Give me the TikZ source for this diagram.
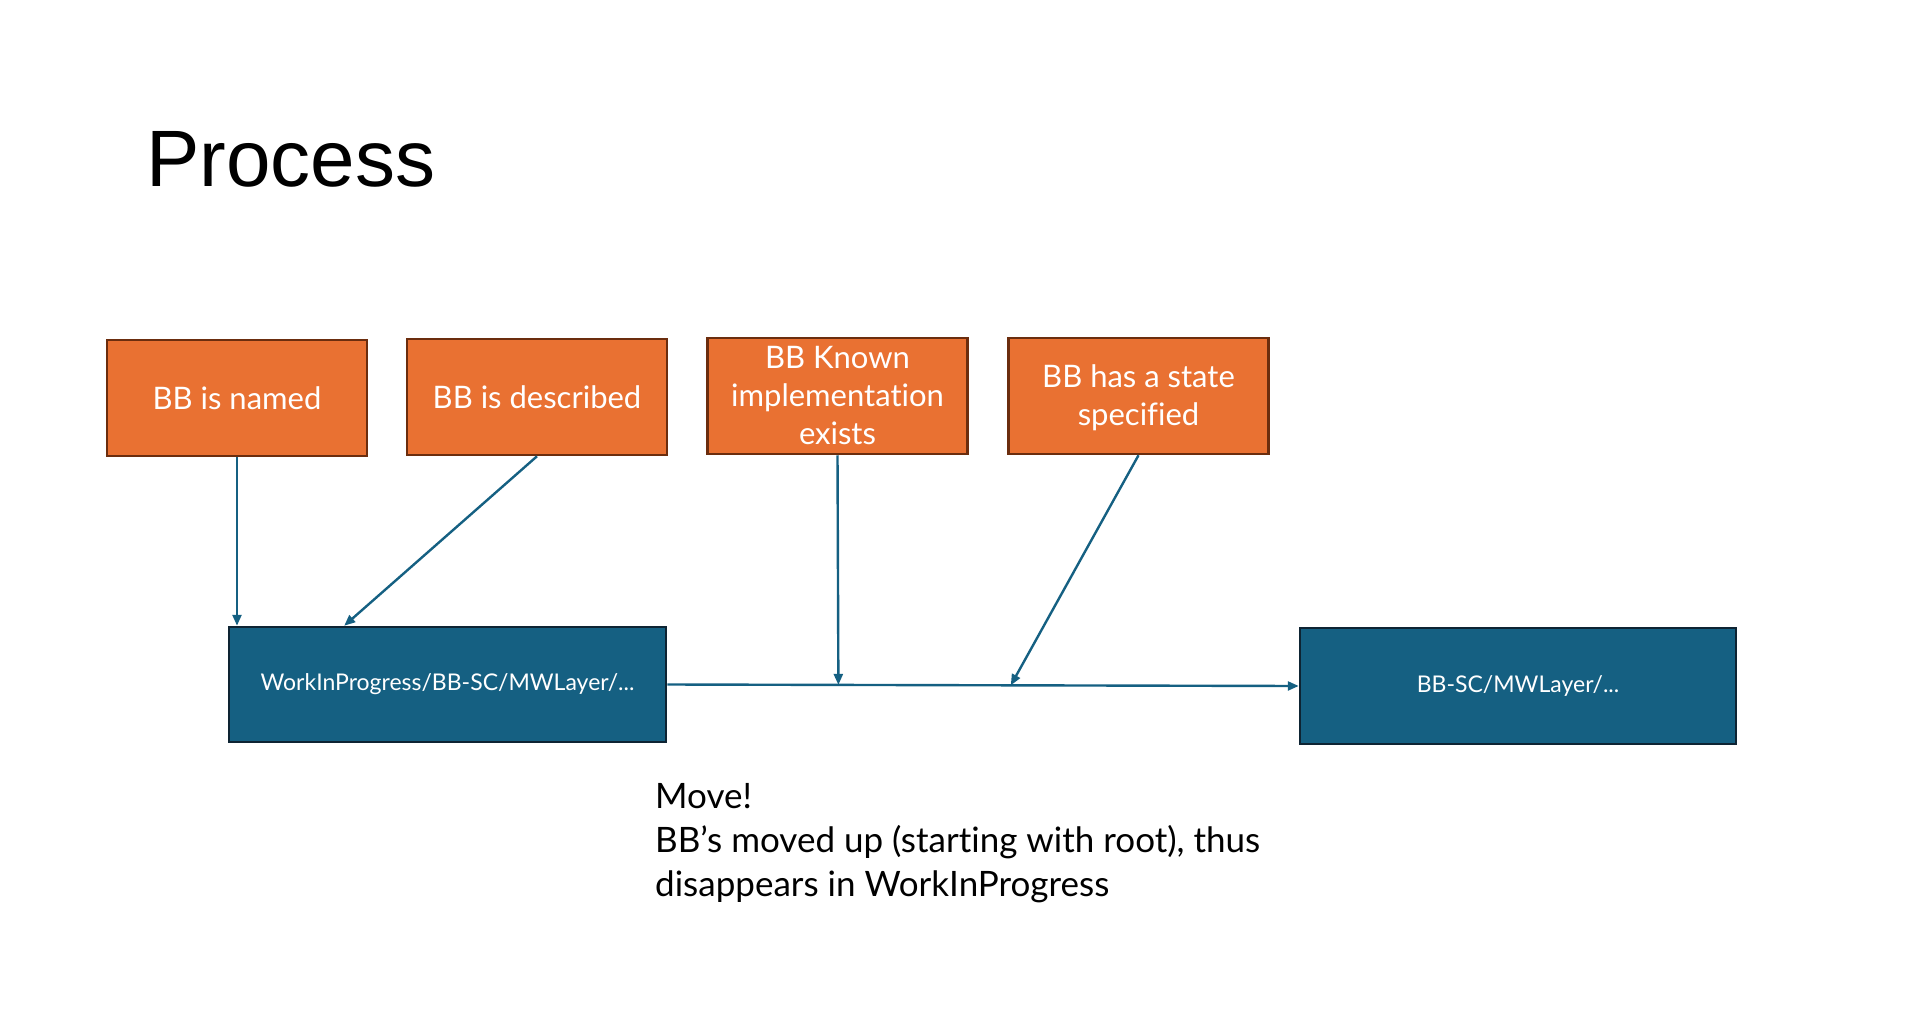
\documentclass[tikz,border=0pt]{standalone}
\usepackage{fontspec}
\setmainfont{Lato}[Ligatures={NoCommon}]
\newfontfamily\titlefont{Liberation Sans}
\usetikzlibrary{arrows.meta,calc}
\definecolor{orfill}{HTML}{E97132}
\definecolor{ordraw}{HTML}{6B2D0E}
\definecolor{blfill}{HTML}{156082}
\definecolor{bldraw}{HTML}{0E2433}
\definecolor{arr}{HTML}{156082}
\begin{document}
\begin{tikzpicture}[x=1pt,y=-1pt,
 obox/.style={draw=ordraw,fill=orfill,line width=2.5pt,minimum width=260pt,minimum height=116pt,inner sep=0pt,text=white,align=center,font=\fontsize{31}{38}\selectfont},
 bbox/.style={draw=bldraw,fill=blfill,line width=2.5pt,minimum width=437pt,minimum height=115pt,inner sep=0pt,text=white,font=\fontsize{23}{27}\selectfont},
 conn/.style={draw=arr,line width=2.4pt,-{Triangle[length=11pt,width=9pt]}}]
\useasboundingbox (0,0) rectangle (1913,1019);
\node[anchor=base west,inner sep=0pt,font=\titlefont\fontsize{80}{90}\selectfont] (title) at (146,187) {Process};
\node[obox] (o1) at (237,398) {BB is named};
\node[obox] (o2) at (537,397) {BB is described};
\node[obox] (o3) at (837.5,396) {BB Known\\implementation\\exists};
\node[obox] (o4) at (1138.5,396) {\strut BB has a state\\specified};
\node[bbox] (b1) at (447.5,684.5) {WorkInProgress/BB-SC/MWLayer/...};
\node[bbox,minimum width=436pt,minimum height=116pt] (b2) at (1518,686) {BB-SC/MWLayer/...};
\coordinate (m3) at ($(b1.east)!0.271!(b2.west)$);
\coordinate (m4) at ($(b1.east)!0.544!(b2.west)$);
\coordinate (t2) at ($(b1.north west)!0.265!(b1.north east)$);
\draw[conn] (b1.east) -- (b2.west);
\draw[conn] (o1.south) -- (o1.south |- b1.north);
\draw[conn] (o2.south) -- (t2);
\draw[conn] (o3.south) -- (m3);
\draw[conn] (o4.south) -- (m4);
\node[anchor=north west,inner sep=0pt,align=left,font=\fontsize{35}{44}\selectfont] (note) at (655,783) {Move!\\BB’s moved up (starting with root), thus\\disappears in WorkInProgress};
\end{tikzpicture}
\end{document}
